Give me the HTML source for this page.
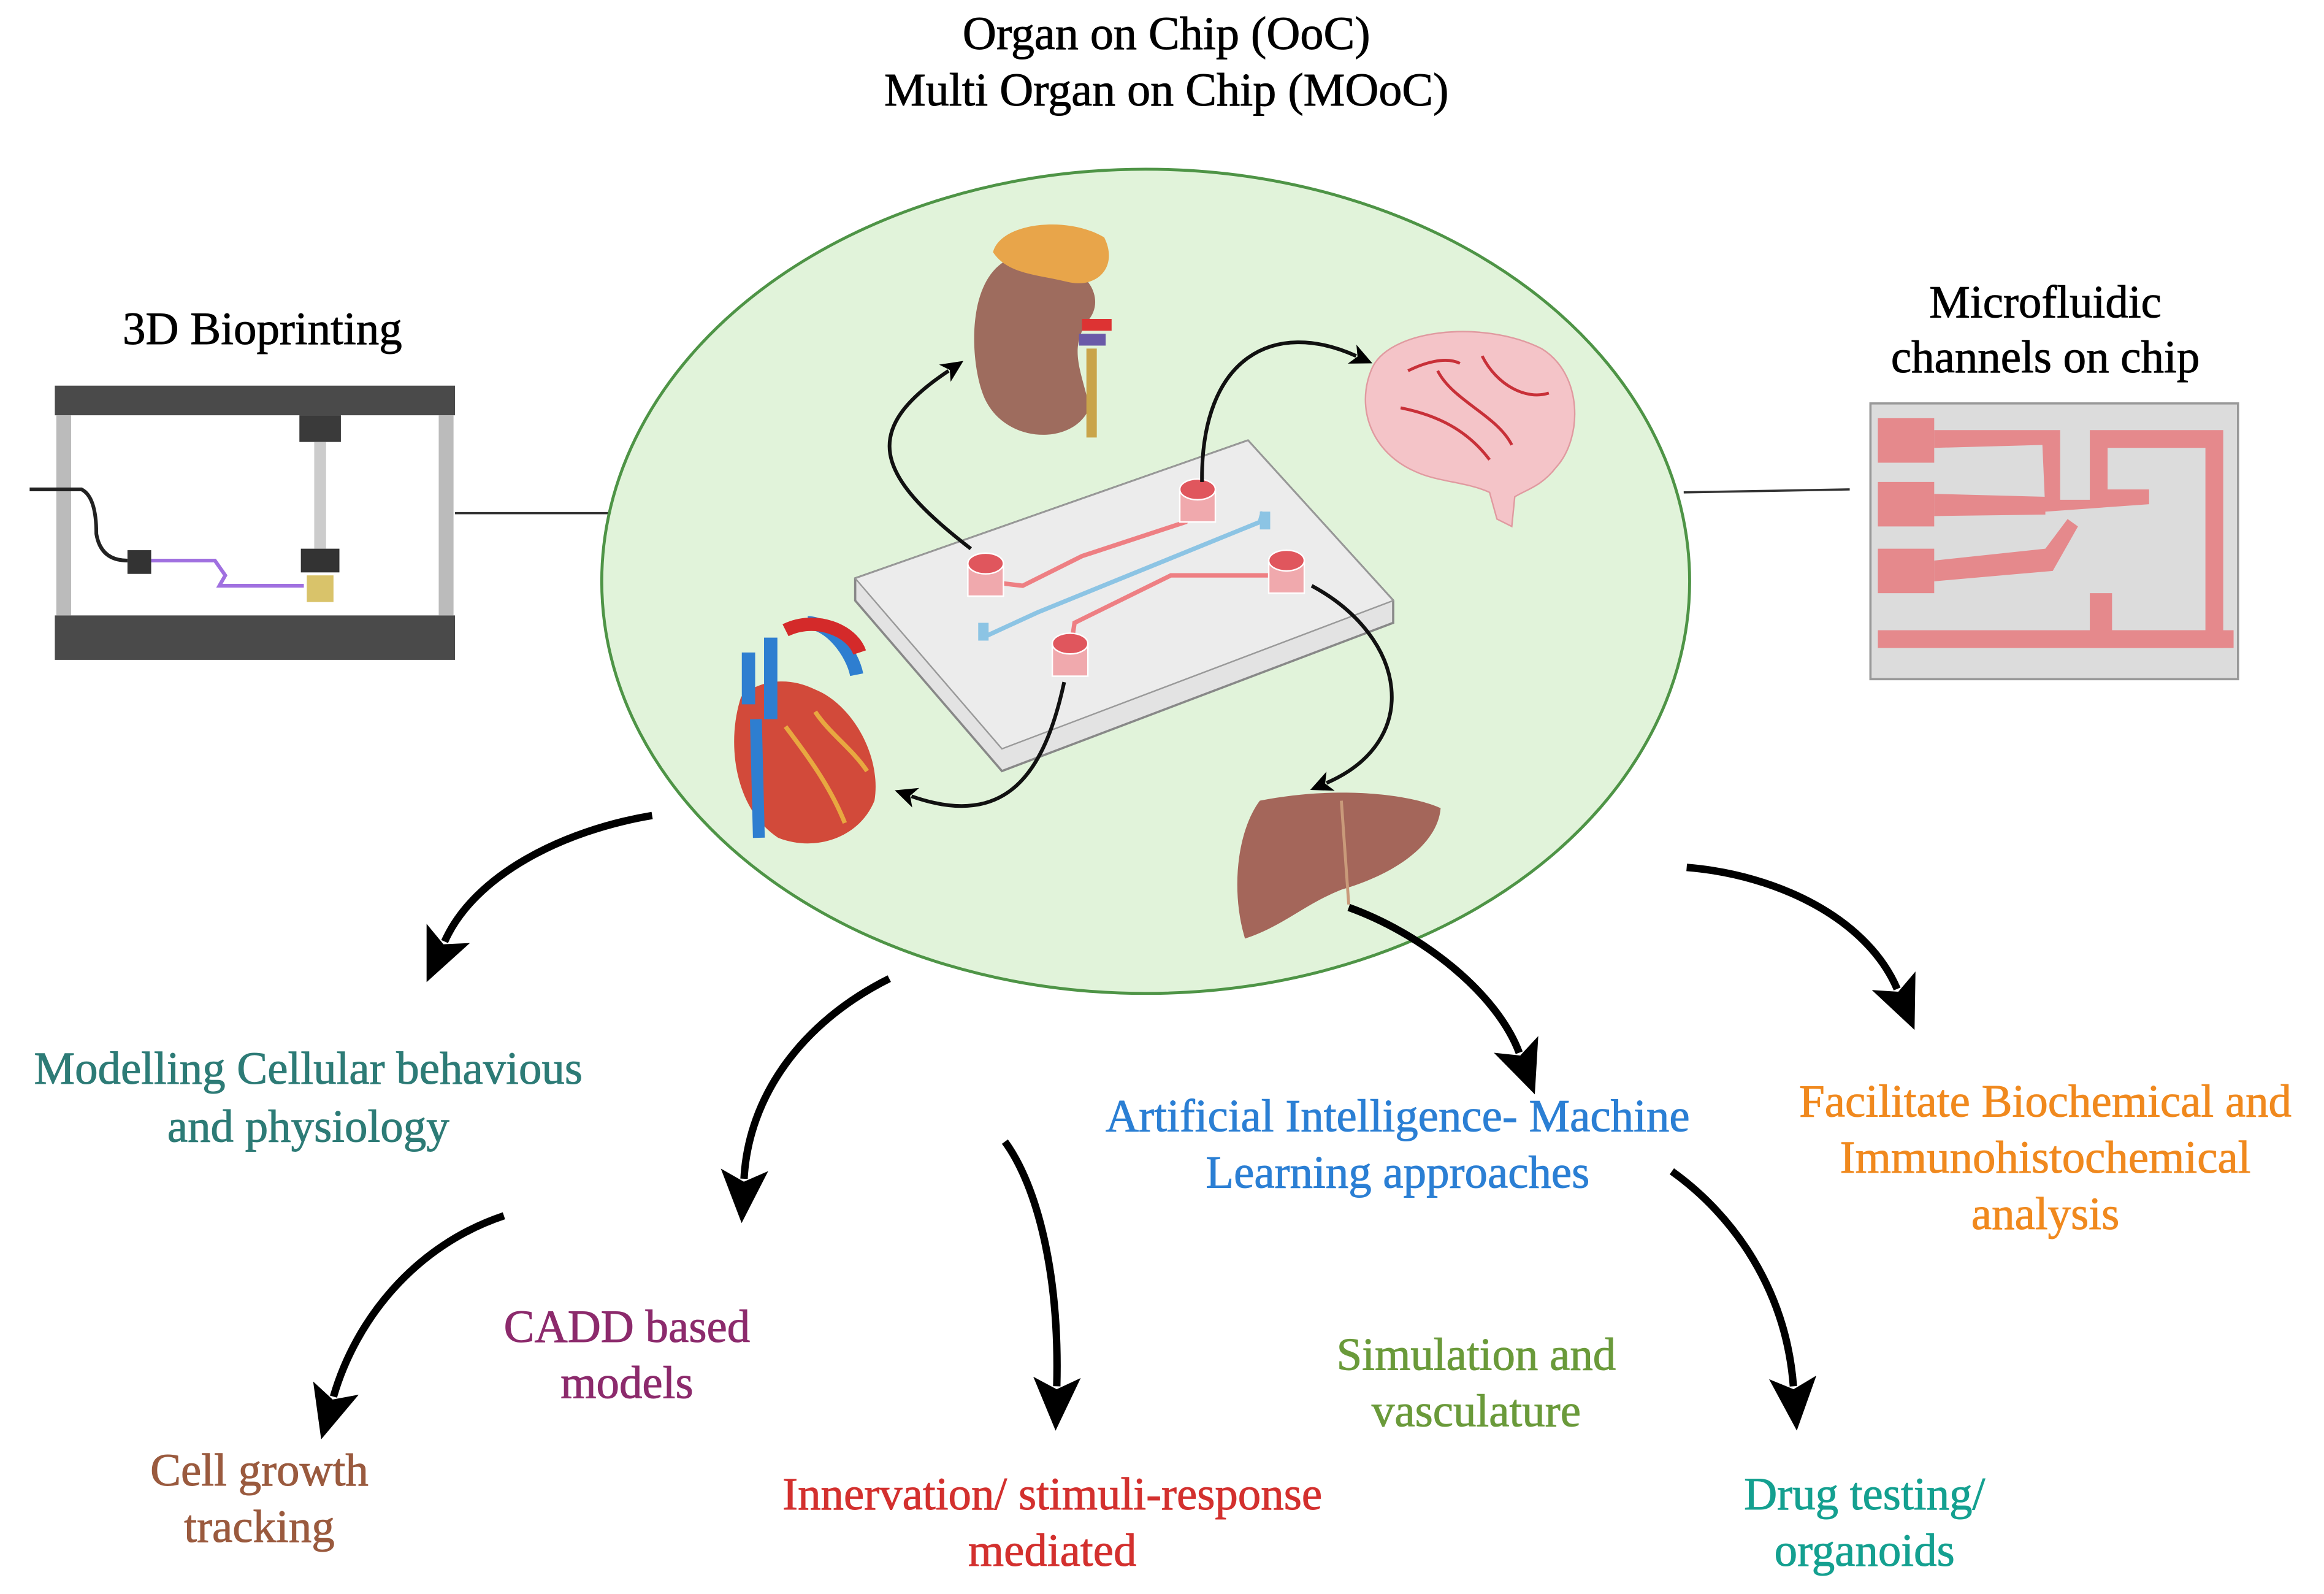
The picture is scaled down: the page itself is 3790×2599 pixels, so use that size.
<!DOCTYPE html>
<html><head><meta charset="utf-8"><style>
html,body{margin:0;padding:0;background:#fff}
svg{display:block}
text{font-family:"Liberation Serif",serif}
</style></head><body>
<svg width="3790" height="2599" viewBox="0 0 1568 1075" xmlns="http://www.w3.org/2000/svg">
<defs>
<marker id="ah" markerUnits="userSpaceOnUse" markerWidth="40" markerHeight="40" refX="6" refY="20" orient="auto" viewBox="0 0 40 40">
<path d="M0,4 L36,20 L0,36 L8,20 Z" fill="#000"/></marker>
<marker id="sa" markerUnits="userSpaceOnUse" markerWidth="16" markerHeight="16" refX="3" refY="8" orient="auto" viewBox="0 0 16 16">
<path d="M0,1 L15,8 L0,15 L4,8 Z" fill="#000"/></marker>
</defs>
<rect width="1568" height="1075" fill="#fff"/>
<g font-size="31.5" stroke="#000" stroke-width="0.4">
<text x="787" y="33" text-anchor="middle">Organ on Chip (OoC)</text>
<text x="787" y="71" text-anchor="middle">Multi Organ on Chip (MOoC)</text>
</g>

<line x1="307" y1="346" x2="412" y2="346" stroke="#333" stroke-width="1.5"/>
<line x1="1136" y1="332" x2="1248" y2="330" stroke="#333" stroke-width="1.5"/>
<ellipse cx="773" cy="392" rx="367" ry="278" fill="#e1f3da" stroke="#4e9446" stroke-width="2"/>

<!-- 3D printer -->
<text x="177" y="232" font-size="31" text-anchor="middle" stroke="#000" stroke-width="0.4">3D Bioprinting</text>
<rect x="37" y="260" width="270" height="20" fill="#4a4a4a"/>
<rect x="37" y="415" width="270" height="30" fill="#4a4a4a"/>
<rect x="38" y="280" width="10" height="135" fill="#bbb"/>
<rect x="296" y="280" width="10" height="135" fill="#bbb"/>
<rect x="202" y="280" width="28" height="18" fill="#3a3a3a"/>
<rect x="212" y="298" width="8" height="72" fill="#ccc"/>
<rect x="203" y="370" width="26" height="16" fill="#333"/>
<rect x="207" y="388" width="18" height="18" fill="#d9c36a"/>
<rect x="86" y="371" width="16" height="16" fill="#333"/>
<path d="M20,330 L55,330 Q65,335 65,360 Q68,378 86,378" fill="none" stroke="#222" stroke-width="2.5"/>
<path d="M102,378 L145,378 L152,388 L148,395 L205,395" fill="none" stroke="#a070e0" stroke-width="2.5"/>

<!-- microfluidic chip -->
<g font-size="31" stroke="#000" stroke-width="0.4">
<text x="1380" y="214" text-anchor="middle">Microfluidic</text>
<text x="1380" y="251" text-anchor="middle">channels on chip</text>
</g>
<rect x="1262" y="272" width="248" height="186" fill="#dcdcdc" stroke="#999" stroke-width="1.5"/>
<g fill="#e5898c">
<rect x="1267" y="282" width="38" height="30"/><rect x="1267" y="325" width="38" height="30"/><rect x="1267" y="370" width="38" height="30"/>
<path d="M1305,290 L1390,290 L1390,337 L1410,337 L1410,290 L1500,290 L1500,437 L1410,437 L1410,400 L1425,400 L1425,425 L1488,425 L1488,302 L1422,302 L1422,330 L1450,330 L1450,340 L1380,345 L1378,300 L1305,302Z"/>
<path d="M1305,333 L1380,335 L1380,347 L1305,348Z"/>
<path d="M1305,378 L1380,370 L1395,350 L1402,355 L1385,385 L1305,392Z"/>
<rect x="1267" y="425" width="240" height="12"/>
</g>

<!-- chip -->
<path d="M577,390 L842,297 L940,405 L940,420 L676,520 L577,405Z" fill="#e3e3e3" stroke="#888" stroke-width="1.5"/>
<path d="M577,390 L842,297 L940,405 L676,505Z" fill="#ececec" stroke="#999" stroke-width="1"/>
<path d="M665,392 L690,395 L730,375 L800,352 L808,338" fill="none" stroke="#ee7f83" stroke-width="3"/>
<path d="M722,440 L725,420 L790,388 L870,388" fill="none" stroke="#ee7f83" stroke-width="3"/>
<path d="M663,430 L700,413 L850,352 L852,345" fill="none" stroke="#8cc4e4" stroke-width="3"/>
<g fill="#f0a9ad" stroke="#fff" stroke-width="1">
<rect x="653" y="380" width="24" height="22"/><ellipse cx="665" cy="380" rx="12" ry="7" fill="#e0565d"/>
<rect x="796" y="330" width="24" height="22"/><ellipse cx="808" cy="330" rx="12" ry="7" fill="#e0565d"/>
<rect x="856" y="378" width="24" height="22"/><ellipse cx="868" cy="378" rx="12" ry="7" fill="#e0565d"/>
<rect x="710" y="434" width="24" height="22"/><ellipse cx="722" cy="434" rx="12" ry="7" fill="#e0565d"/>
</g>
<rect x="660" y="420" width="7" height="12" fill="#8cc4e4"/><rect x="850" y="345" width="7" height="12" fill="#8cc4e4"/>

<!-- small arrows -->
<g fill="none" stroke="#111" stroke-width="2.5">
<path d="M655,370 C590,320 580,290 640,250" marker-end="url(#sa)"/>
<path d="M811,325 C810,240 860,215 915,240" marker-end="url(#sa)"/>
<path d="M885,395 C950,430 960,500 895,528" marker-end="url(#sa)"/>
<path d="M718,460 C705,520 680,560 615,537" marker-end="url(#sa)"/>
</g>

<!-- kidney -->
<path d="M680,175 C650,190 655,250 665,270 C680,300 725,300 735,275 C730,250 720,235 735,215 C750,195 720,165 680,175Z" fill="#9e6c5e"/>
<path d="M670,170 C675,150 720,145 745,160 C755,180 740,195 720,190 C700,185 680,185 670,170Z" fill="#e8a54a"/>
<rect x="730" y="215" width="20" height="8" fill="#d33"/><rect x="728" y="225" width="18" height="8" fill="#6a5aa8"/>
<rect x="733" y="235" width="7" height="60" fill="#c9a44a"/>
<!-- brain -->
<path d="M925,250 C935,222 1000,215 1040,235 C1068,252 1068,295 1050,315 C1040,328 1030,330 1022,335 L1020,355 L1010,350 L1005,332 C990,325 970,325 955,318 C925,305 915,275 925,250Z" fill="#f4c4c8" stroke="#e09aa0"/>
<path d="M970,250 C980,270 1010,280 1020,300 M945,275 C970,280 990,290 1005,310 M1000,240 C1010,260 1030,270 1045,265 M950,250 C960,245 975,240 985,245" stroke="#c83038" stroke-width="2" fill="none"/>
<!-- heart -->
<path d="M500,470 C490,500 495,545 525,565 C550,575 580,565 590,540 C595,510 575,475 550,465 C530,455 510,460 500,470Z" fill="#d24a3a"/>
<path d="M520,430 L520,485 M505,440 L505,475 M545,420 C560,420 575,440 578,455" stroke="#2e7ed0" stroke-width="9" fill="none"/>
<path d="M530,425 C550,415 575,425 580,440" stroke="#d42a2a" stroke-width="9" fill="none"/>
<path d="M510,485 L512,565" stroke="#2e7ed0" stroke-width="8"/>
<path d="M530,490 C545,510 560,530 570,555 M550,480 C560,495 575,505 585,520" stroke="#e8a840" stroke-width="3" fill="none"/>
<!-- liver -->
<path d="M850,540 C900,530 950,535 972,545 C970,570 940,590 905,600 C880,610 865,625 840,633 C830,600 835,560 850,540Z" fill="#a4665a"/>
<path d="M905,540 L910,610" stroke="#c99a7a" stroke-width="2"/>

<!-- big arrows -->
<g fill="none" stroke="#000" stroke-width="5">
<path d="M440,550 C380,560 320,590 300,635" marker-end="url(#ah)"/>
<path d="M600,660 C540,690 505,740 502,795" marker-end="url(#ah)"/>
<path d="M340,820 C280,840 240,890 225,942" marker-end="url(#ah)"/>
<path d="M678,770 C700,800 715,860 713,935" marker-end="url(#ah)"/>
<path d="M910,612 C960,630 1010,670 1025,710" marker-end="url(#ah)"/>
<path d="M1138,585 C1200,590 1260,620 1280,667" marker-end="url(#ah)"/>
<path d="M1128,790 C1170,820 1205,870 1210,935" marker-end="url(#ah)"/>
</g>

<g font-size="31" stroke-width="0.4">
<text x="208" y="731" text-anchor="middle" fill="#2d7b76" stroke="#2d7b76">Modelling Cellular behavious</text>
<text x="208" y="770" text-anchor="middle" fill="#2d7b76" stroke="#2d7b76">and physiology</text>
<text x="943" y="763" text-anchor="middle" fill="#2b7fd4" stroke="#2b7fd4">Artificial Intelligence- Machine</text>
<text x="943" y="801" text-anchor="middle" fill="#2b7fd4" stroke="#2b7fd4">Learning approaches</text>
<text x="1380" y="753" text-anchor="middle" fill="#f0891e" stroke="#f0891e">Facilitate Biochemical and</text>
<text x="1380" y="791" text-anchor="middle" fill="#f0891e" stroke="#f0891e">Immunohistochemical</text>
<text x="1380" y="829" text-anchor="middle" fill="#f0891e" stroke="#f0891e">analysis</text>
<text x="423" y="905" text-anchor="middle" fill="#8c2a6c" stroke="#8c2a6c">CADD based</text>
<text x="423" y="943" text-anchor="middle" fill="#8c2a6c" stroke="#8c2a6c">models</text>
<text x="996" y="924" text-anchor="middle" fill="#6a9a3a" stroke="#6a9a3a">Simulation and</text>
<text x="996" y="962" text-anchor="middle" fill="#6a9a3a" stroke="#6a9a3a">vasculature</text>
<text x="175" y="1002" text-anchor="middle" fill="#9a5a3e" stroke="#9a5a3e">Cell growth</text>
<text x="175" y="1040" text-anchor="middle" fill="#9a5a3e" stroke="#9a5a3e">tracking</text>
<text x="710" y="1018" text-anchor="middle" fill="#d3302e" stroke="#d3302e">Innervation/ stimuli-response</text>
<text x="710" y="1056" text-anchor="middle" fill="#d3302e" stroke="#d3302e">mediated</text>
<text x="1258" y="1018" text-anchor="middle" fill="#14a090" stroke="#14a090">Drug testing/</text>
<text x="1258" y="1056" text-anchor="middle" fill="#14a090" stroke="#14a090">organoids</text>
</g>
</svg>
</body></html>
